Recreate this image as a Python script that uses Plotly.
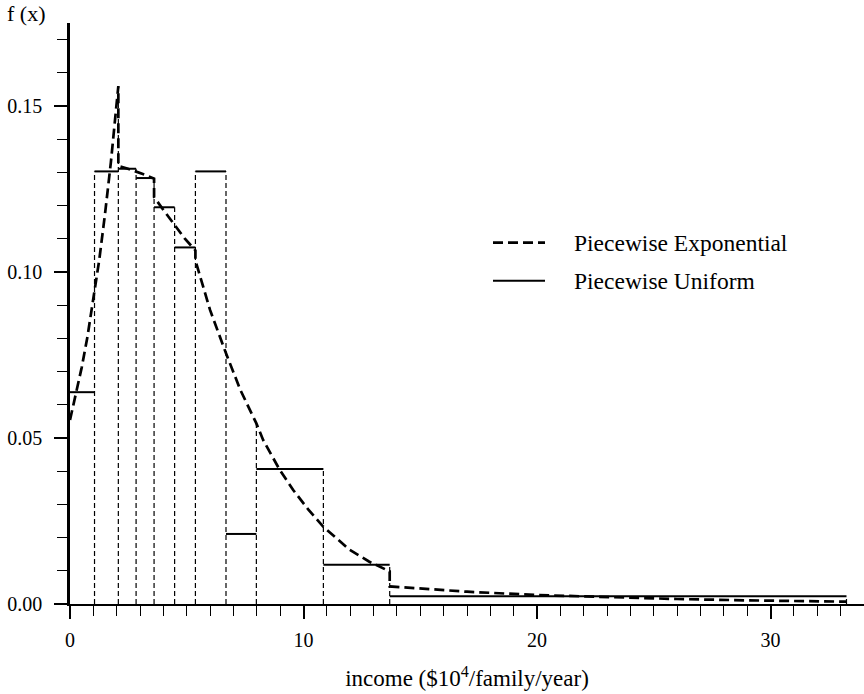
import numpy as np
import plotly.graph_objects as go

# ---- data ----
bin_edges = [0.0, 1.05, 2.07, 2.83, 3.60, 4.48, 5.37, 6.68, 7.98, 10.85, 13.69, 33.25]
uniform_heights = [0.0638, 0.1303, 0.1311, 0.1283, 0.1195, 0.1074, 0.1303, 0.0211, 0.0407, 0.0118, 0.0023]

exp_x = [0.0, 0.25, 0.5, 0.75, 1.0, 1.25, 1.5, 1.75, 2.07,
         2.07, 2.45, 2.84, 3.2, 3.6,
         3.6, 4.0, 4.48, 4.9, 5.37,
         5.37, 6.0, 6.68, 7.3, 7.98,
         8.27, 8.98, 9.55, 10.2, 10.84, 11.98, 12.8, 13.69,
         13.69, 15.0, 17.0, 20.0, 23.0, 26.0, 29.0, 33.25]
exp_y = [0.0554, 0.0630, 0.0712, 0.0806, 0.0914, 0.1035, 0.1175, 0.1330, 0.1560,
         0.1319, 0.1312, 0.1303, 0.1293, 0.1281,
         0.1226, 0.1187, 0.1140, 0.1102, 0.1065,
         0.1035, 0.0885, 0.0755, 0.0644, 0.0544,
         0.0494, 0.0404, 0.0344, 0.0285, 0.0233, 0.0163, 0.0128, 0.0098,
         0.0053, 0.0046, 0.0037, 0.0027, 0.0020, 0.0015, 0.0011, 0.0007]

x_tick_vals = [0, 10, 20, 30]
y_tick_vals = [0.00, 0.05, 0.10, 0.15]

FONT = "Liberation Serif"

fig = go.Figure()

# thin dashed bar edges
ex, ey = np.array(exp_x), np.array(exp_y)
vx, vy = [], []
for i, e in enumerate(bin_edges[1:], start=1):
    cand = [uniform_heights[i - 1]]
    if i < len(uniform_heights):
        cand.append(uniform_heights[i])
    near = ey[np.abs(ex - e) < 0.02]
    if near.size:
        cand.append(near.max())
    vx += [e, e, None]
    vy += [0, max(cand), None]
fig.add_trace(go.Scatter(x=vx, y=vy, mode="lines", showlegend=False, hoverinfo="skip",
                         line=dict(color="black", width=1.2, dash="5px,3px")))

# piecewise uniform tops
ux, uy = [], []
for i, h in enumerate(uniform_heights):
    ux += [bin_edges[i], bin_edges[i + 1], None]
    uy += [h, h, None]
fig.add_trace(go.Scatter(x=ux, y=uy, mode="lines", name="Piecewise Uniform",
                         showlegend=False, line=dict(color="black", width=2)))

# piecewise exponential
fig.add_trace(go.Scatter(x=exp_x, y=exp_y, mode="lines", name="Piecewise Exponential",
                         showlegend=False,
                         line=dict(color="black", width=2.7, dash="10px,5px")))

L, R, T, B = 70, 0, 23, 90
W, H = 864, 694
pw, ph = W - L - R, H - T - B

def px(xp):
    return (xp - L) / pw

def py(yp):
    return (H - B - yp) / ph

# legend drawn by hand
leg = [("Piecewise Exponential", 242.7, "10px,5px", 2.7),
       ("Piecewise Uniform", 280.7, "solid", 2.0)]
for text, yy, dash, wd in leg:
    fig.add_shape(type="line", xref="paper", yref="paper",
                  x0=px(493), x1=px(545), y0=py(yy), y1=py(yy),
                  line=dict(color="black", width=wd, dash=dash))
    fig.add_annotation(xref="paper", yref="paper", x=px(572), y=py(yy),
                       text=text, showarrow=False, xanchor="left", yanchor="middle",
                       font=dict(family=FONT, size=23.5, color="black"))

fig.add_annotation(xref="paper", yref="paper", x=px(26), y=py(14),
                   text="f (x)", showarrow=False, xanchor="center", yanchor="middle",
                   font=dict(family=FONT, size=22, color="black"))

fig.update_layout(
    width=W, height=H,
    margin=dict(l=L, r=R, t=T, b=B, autoexpand=False),
    plot_bgcolor="white", paper_bgcolor="white",
    font=dict(family=FONT, size=20, color="black"),
    showlegend=False,
)
fig.update_xaxes(
    range=[0, 34], showgrid=False, zeroline=False,
    showline=True, linecolor="black", linewidth=2.2,
    ticks="outside", tickvals=x_tick_vals, ticklen=13, tickwidth=2, tickcolor="black",
    minor=dict(dtick=1, tick0=0, ticks="outside", ticklen=10, tickwidth=1.3,
               tickcolor="black", showgrid=False),
    tickfont=dict(family=FONT, size=20), ticklabelstandoff=4,
    title=dict(text="income ($10<sup>4</sup>/family/year)",
               font=dict(family=FONT, size=23), standoff=20),
)
fig.update_yaxes(
    range=[0, 0.175], showgrid=False, zeroline=False,
    showline=True, linecolor="black", linewidth=2.6,
    ticks="outside", tickvals=y_tick_vals, tickformat=".2f",
    ticklen=13, tickwidth=2, tickcolor="black",
    minor=dict(dtick=0.01, tick0=0, ticks="outside", ticklen=10, tickwidth=1.3,
               tickcolor="black", showgrid=False),
    tickfont=dict(family=FONT, size=20), ticklabelstandoff=8,
)

fig.write_html("out.html", config={"displayModeBar": False},
               post_script="document.body.style.margin='0px';document.body.style.overflow='hidden';")
